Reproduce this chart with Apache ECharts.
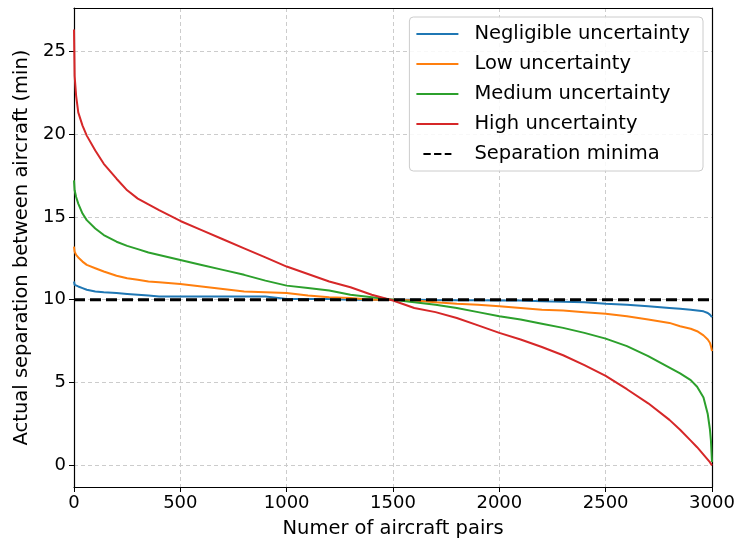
<!DOCTYPE html>
<html>
<head>
<meta charset="utf-8">
<script src="https://cdn.jsdelivr.net/npm/echarts@6/dist/echarts.min.js"></script>
<style>
html,body{margin:0;padding:0;background:#fff;}
#chart{width:738px;height:544px;}
</style>
</head>
<body>
<div id="chart"></div>
<script>
// Data
var pairs = [0, 3, 10, 20, 40, 60, 100, 140, 200, 250, 300, 350, 400, 500, 600, 700, 800, 900, 1000, 1100, 1200, 1300, 1400, 1500, 1600, 1700, 1800, 1900, 2000, 2100, 2200, 2300, 2400, 2500, 2600, 2700, 2800, 2850, 2900, 2930, 2960, 2980, 2990, 2995, 3000];

var negligible = [11.1, 10.9, 10.85, 10.8, 10.7, 10.6, 10.5, 10.45, 10.4, 10.35, 10.3, 10.25, 10.2, 10.2, 10.2, 10.2, 10.2, 10.2, 10.05, 10.05, 10.05, 10.0, 10.0, 10.0, 10.0, 9.98, 9.97, 9.96, 9.95, 9.95, 9.9, 9.88, 9.85, 9.75, 9.7, 9.6, 9.5, 9.45, 9.4, 9.35, 9.3, 9.2, 9.1, 9.05, 8.95];

var low = [13.2, 12.9, 12.7, 12.55, 12.3, 12.1, 11.9, 11.7, 11.45, 11.3, 11.2, 11.1, 11.05, 10.95, 10.8, 10.65, 10.5, 10.45, 10.4, 10.25, 10.15, 10.1, 10.0, 10.0, 9.95, 9.85, 9.75, 9.7, 9.6, 9.5, 9.4, 9.35, 9.25, 9.15, 9.0, 8.8, 8.6, 8.4, 8.25, 8.1, 7.85, 7.6, 7.4, 7.2, 6.9];

var medium = [17.2, 16.6, 16.2, 15.8, 15.2, 14.8, 14.3, 13.9, 13.5, 13.25, 13.05, 12.85, 12.7, 12.4, 12.1, 11.8, 11.5, 11.15, 10.85, 10.7, 10.55, 10.3, 10.15, 10.0, 9.85, 9.7, 9.5, 9.25, 9.0, 8.8, 8.55, 8.3, 8.0, 7.65, 7.2, 6.6, 5.9, 5.55, 5.15, 4.75, 4.1, 3.1, 2.2, 1.5, 0.2];

var high = [26.3, 23.5, 22.3, 21.3, 20.5, 19.9, 19.0, 18.2, 17.3, 16.6, 16.1, 15.75, 15.4, 14.75, 14.2, 13.65, 13.1, 12.55, 12.0, 11.55, 11.1, 10.75, 10.3, 9.95, 9.5, 9.25, 8.9, 8.45, 8.0, 7.6, 7.15, 6.65, 6.05, 5.4, 4.6, 3.75, 2.75, 2.15, 1.5, 1.1, 0.65, 0.35, 0.2, 0.1, 0.0];

var minimaX = [0, 3000];
var minimaY = [10, 10];

var seriesNames = ['Negligible uncertainty', 'Low uncertainty', 'Medium uncertainty', 'High uncertainty', 'Separation minima'];
var yTicks = [0, 5, 10, 15, 20, 25];

function pts(xs, ys) { return xs.map(function (x, i) { return [x, ys[i]]; }); }

var font = 'DejaVu Sans';
var chart = echarts.init(document.getElementById('chart'), null, {renderer: 'canvas'});

function lineSeries(name, ys, color) {
  return {
    name: name, type: 'line', data: pts(pairs, ys),
    symbol: 'none', showSymbol: false,
    lineStyle: {color: color, width: 2},
    itemStyle: {color: color},
    animation: false
  };
}

var solidIcon = 'path://M0,0H42V2H0Z';
var dashIcon = 'path://M0,0H11V3H0Z M16,0H27V3H16Z M32,0H42V3H32Z';

chart.setOption({
  animation: false,
  backgroundColor: '#fff',
  textStyle: {fontFamily: font},
  grid: {left: 74, right: 26, top: 8, bottom: 57},
  legend: {
    orient: 'vertical', right: 35, top: 17,
    data: [
      {name: seriesNames[0], icon: solidIcon, itemStyle: {color: '#1f77b4'}},
      {name: seriesNames[1], icon: solidIcon, itemStyle: {color: '#ff7f0e'}},
      {name: seriesNames[2], icon: solidIcon, itemStyle: {color: '#2ca02c'}},
      {name: seriesNames[3], icon: solidIcon, itemStyle: {color: '#d62728'}},
      {name: seriesNames[4], icon: dashIcon, itemStyle: {color: '#000'}}
    ],
    itemWidth: 42, itemHeight: 2, itemGap: 10,
    padding: [7, 13, 7, 7],
    backgroundColor: 'rgba(255,255,255,0.85)',
    borderColor: '#cccccc', borderWidth: 1, borderRadius: 4,
    textStyle: {fontFamily: font, fontSize: 19.5, color: '#000', padding: [0, 0, 0, 11], lineHeight: 20}
  },
  xAxis: [{
    type: 'value', min: 0, max: 3000, interval: 500,
    name: 'Numer of aircraft pairs', nameLocation: 'middle', nameGap: 32,
    nameTextStyle: {fontFamily: font, fontSize: 19.5, color: '#000'},
    axisLine: {show: true, onZero: false, lineStyle: {color: '#000', width: 1.2}},
    axisTick: {show: true, length: 5, lineStyle: {color: '#000'}},
    axisLabel: {fontFamily: font, fontSize: 18, color: '#000', margin: 7, formatter: function (v) { return String(v); }},
    splitLine: {show: true, lineStyle: {color: '#cccccc', type: [4, 3], width: 1}}
  }, {
    type: 'value', min: 0, max: 3000, position: 'top',
    axisLine: {show: true, onZero: false, lineStyle: {color: '#000', width: 1.2}},
    axisTick: {show: false}, axisLabel: {show: false}, splitLine: {show: false}
  }],
  yAxis: [{
    type: 'value', min: -1.3, max: 27.6,
    name: 'Actual separation between aircraft (min)', nameLocation: 'middle', nameGap: 42,
    nameTextStyle: {fontFamily: font, fontSize: 19.5, color: '#000'},
    axisLine: {show: true, onZero: false, lineStyle: {color: '#000', width: 1.2}},
    axisTick: {show: true, length: 5, lineStyle: {color: '#000'}, customValues: yTicks},
    axisLabel: {fontFamily: font, fontSize: 18, color: '#000', margin: 8, customValues: yTicks},
    splitLine: {show: true, lineStyle: {color: '#cccccc', type: [4, 3], width: 1}}
  }, {
    type: 'value', min: -1.3, max: 27.6, position: 'right',
    axisLine: {show: true, onZero: false, lineStyle: {color: '#000', width: 1.2}},
    axisTick: {show: false}, axisLabel: {show: false}, splitLine: {show: false}
  }],
  series: [
    lineSeries(seriesNames[0], negligible, '#1f77b4'),
    lineSeries(seriesNames[1], low, '#ff7f0e'),
    lineSeries(seriesNames[2], medium, '#2ca02c'),
    lineSeries(seriesNames[3], high, '#d62728'),
    {
      name: seriesNames[4], type: 'line', data: pts(minimaX, minimaY),
      symbol: 'none', showSymbol: false,
      lineStyle: {color: '#000', width: 3, type: [11, 5]},
      itemStyle: {color: '#000'}, z: 5
    }
  ]
});
</script>
</body>
</html>
